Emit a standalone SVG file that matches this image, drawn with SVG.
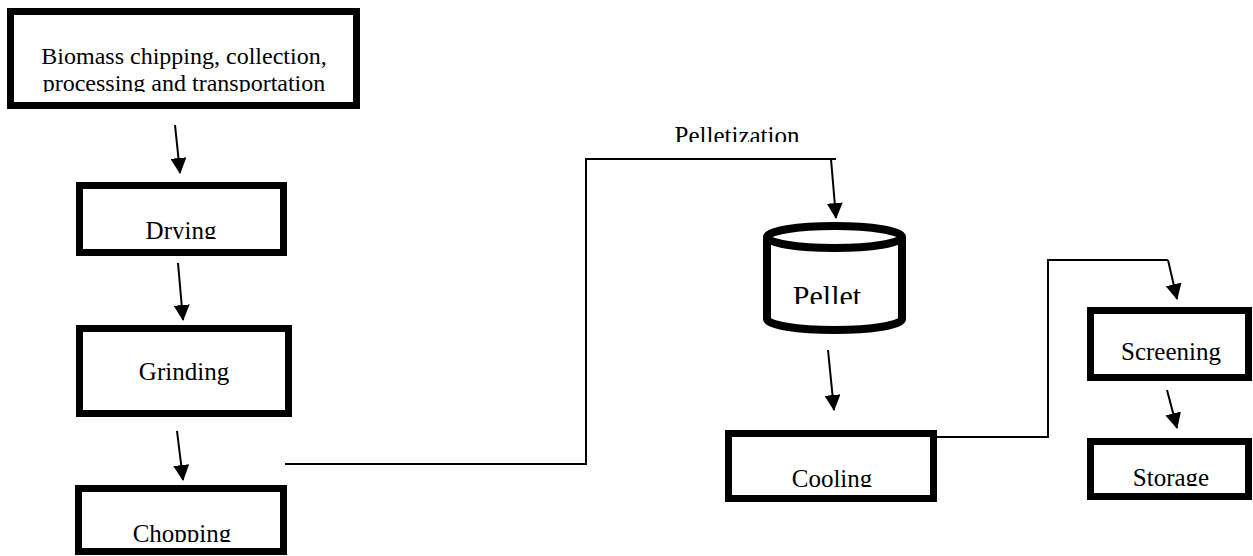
<svg xmlns="http://www.w3.org/2000/svg" width="1253" height="556" viewBox="0 0 1253 556">
<style>
.box{fill:#fff;stroke:#000;stroke-width:7}
.lbl{font-family:"Liberation Serif","Times New Roman",serif;font-size:25px;fill:#000;text-anchor:middle}
.conn{fill:none;stroke:#000;stroke-width:2}
</style>
<defs>
<marker id="ah" markerUnits="userSpaceOnUse" markerWidth="16" markerHeight="16" viewBox="0 0 16 16" refX="15" refY="8" orient="auto">
<path d="M0,0 L16,8 L0,16 z" fill="#000"/>
</marker>
<clipPath id="c1"><rect x="0" y="0" width="400" height="92"/></clipPath>
<clipPath id="c2"><rect x="0" y="150" width="400" height="89"/></clipPath>
<clipPath id="c4"><rect x="0" y="490" width="400" height="52"/></clipPath>
<clipPath id="c5"><rect x="600" y="100" width="300" height="42"/></clipPath>
<clipPath id="c6"><rect x="760" y="250" width="150" height="54"/></clipPath>
<clipPath id="c7"><rect x="720" y="430" width="230" height="57"/></clipPath>
<clipPath id="c8"><rect x="1080" y="300" width="173" height="65"/></clipPath>
<clipPath id="c9"><rect x="1080" y="440" width="173" height="46"/></clipPath>
</defs>
<g id="connectors">
<line class="conn" x1="175" y1="125" x2="180" y2="173" marker-end="url(#ah)"/>
<line class="conn" x1="178" y1="263" x2="183" y2="320" marker-end="url(#ah)"/>
<line class="conn" x1="177" y1="431" x2="183" y2="480" marker-end="url(#ah)"/>
<polyline class="conn" points="285,464 586,464 586,159 836,159"/>
<line class="conn" x1="831" y1="159" x2="836" y2="218" marker-end="url(#ah)"/>
<line class="conn" x1="828" y1="350" x2="834" y2="410" marker-end="url(#ah)"/>
<polyline class="conn" points="937,437 1048,437 1048,260 1168,260"/>
<line class="conn" x1="1168" y1="260" x2="1177" y2="299" marker-end="url(#ah)"/>
<line class="conn" x1="1167" y1="390" x2="1177" y2="428" marker-end="url(#ah)"/>
</g>
<g id="biomass">
<rect class="box" x="10.5" y="11.5" width="346" height="94"/>
<g clip-path="url(#c1)">
<text class="lbl" x="184" y="64" style="font-size:24px">Biomass chipping, collection,</text>
<text class="lbl" x="184" y="91" style="font-size:24px">processing and transportation</text>
</g>
</g>
<g id="drying">
<rect class="box" x="79.5" y="185.5" width="204" height="67"/>
<text class="lbl" x="181" y="239" clip-path="url(#c2)">Drying</text>
</g>
<g id="grinding">
<rect class="box" x="79.5" y="328.5" width="209" height="85"/>
<text class="lbl" x="184" y="380">Grinding</text>
</g>
<g id="chopping">
<rect class="box" x="78.5" y="488.5" width="205" height="63"/>
<text class="lbl" x="182" y="542" clip-path="url(#c4)">Chopping</text>
</g>
<g id="pelletization">
<text class="lbl" x="737" y="144" clip-path="url(#c5)">Pelletization</text>
</g>
<g id="pellet">
<path d="M767,237 L767,319 A67.5,11 0 0 0 902,319 L902,237" fill="#fff" stroke="#000" stroke-width="8"/>
<ellipse cx="834.5" cy="237" rx="67.5" ry="11" fill="#fff" stroke="#000" stroke-width="8"/>
<text class="lbl" x="827" y="306" clip-path="url(#c6)" style="font-size:30px">Pellet</text>
</g>
<g id="cooling">
<rect class="box" x="728.5" y="433.5" width="205" height="65"/>
<text class="lbl" x="832" y="487" clip-path="url(#c7)">Cooling</text>
</g>
<g id="screening">
<rect class="box" x="1090.5" y="310.5" width="158" height="67"/>
<text class="lbl" x="1171" y="360" clip-path="url(#c8)">Screening</text>
</g>
<g id="storage">
<rect class="box" x="1090.5" y="441.5" width="158" height="55"/>
<text class="lbl" x="1171" y="486" clip-path="url(#c9)">Storage</text>
</g>
</svg>
